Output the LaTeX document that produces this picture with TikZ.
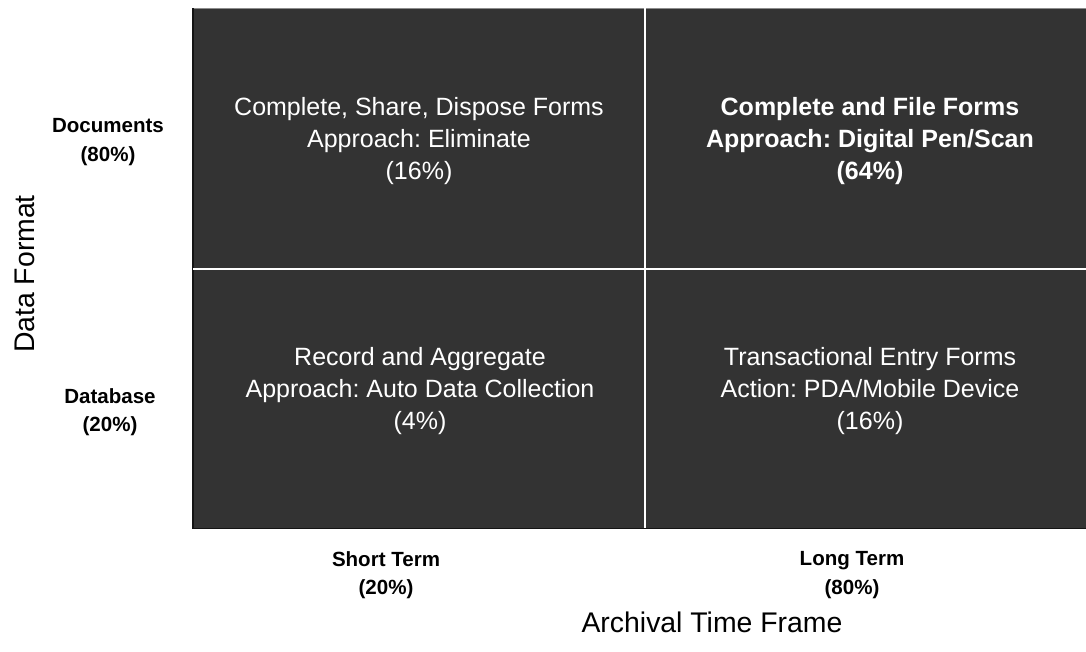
\documentclass[tikz,border=0pt]{standalone}
\usepackage{fontspec}
\setmainfont{Liberation Sans}
\frenchspacing
\definecolor{cellfill}{HTML}{333333}
\definecolor{edgelight}{HTML}{8C8C8C}
\definecolor{edgedark}{HTML}{141414}
\begin{document}
\begin{tikzpicture}[x=0.75pt,y=-0.75pt,
  celltext/.style={text=white,align=center,font=\fontsize{18.75}{23.8}\selectfont},
  celltextbold/.style={celltext,font=\fontsize{18.75}{23.8}\selectfont\bfseries},
  axislabel/.style={align=center,font=\fontsize{15.4}{21.2}\selectfont\bfseries},
  axistitle/.style={font=\fontsize{21.3}{25}\selectfont}]
\useasboundingbox (0,0) rectangle (1086,651);
\begin{scope}
\clip (0,0) rectangle (1086,651);
% quadrant background with white dividers
\fill[cellfill] (192,8) rectangle (1095,529);
\draw[edgelight,line width=0.75pt] (192,8.5) -- (1095,8.5);
\draw[edgedark,line width=1.5pt] (193,8) -- (193,529);
\draw[edgedark,line width=1.2pt] (192,528.5) -- (1095,528.5);
\draw[white,line width=1.5pt] (645,8) -- (645,528);
\draw[white,line width=1.5pt] (193,269) -- (1095,269);
\end{scope}
% quadrant contents
\node[celltext] (tl) at (419,141) {Complete, Share, Dispose Forms\\Approach: Eliminate\\(16\%)};
\node[celltextbold] (tr) at (870,141) {Complete and File Forms\\Approach: Digital Pen/Scan\\(64\%)};
\node[celltext] (bl) at (420,391) {Record and Aggregate\\Approach: Auto Data Collection\\(4\%)};
\node[celltext] (br) at (870,391) {Transactional Entry Forms\\Action: PDA/Mobile Device\\(16\%)};
% row labels
\node[axislabel] (docs) at (108,142) {Documents\\(80\%)};
\node[axislabel] (db) at (110,412) {Database\\(20\%)};
% column labels
\node[axislabel] (short) at (386,575) {Short Term\\(20\%)};
\node[axislabel] (long) at (852,575) {Long Term\\(80\%)};
% axis titles
\node[axistitle] (xtitle) at (712,622) {Archival Time Frame};
\node[axistitle,rotate=90] (ytitle) at (25,274) {Data Format};
\end{tikzpicture}
\end{document}
